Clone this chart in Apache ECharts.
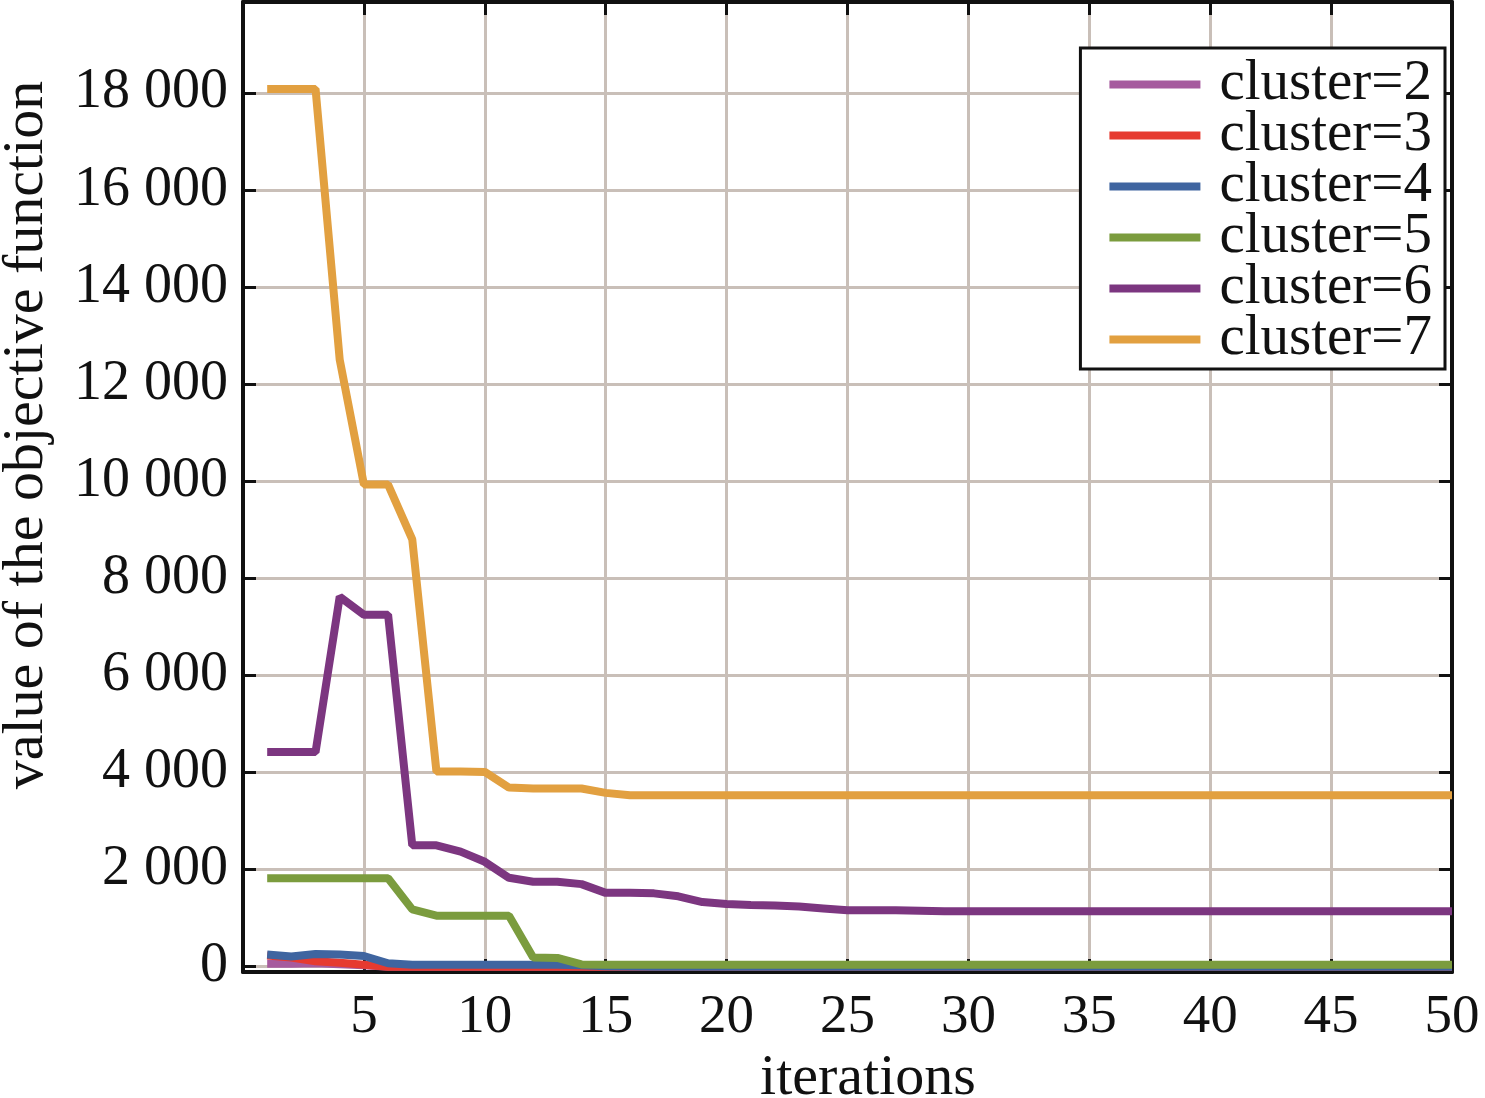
<!DOCTYPE html>
<html>
<head>
<meta charset="utf-8">
<script src="https://cdn.jsdelivr.net/npm/echarts@6/dist/echarts.min.js"></script>
<style>
html,body{margin:0;padding:0;background:#fff;}
#chart{width:1485px;height:1098px;}
</style>
</head>
<body>
<div id="chart"></div>
<script>
var iterations = [1,2,3,4,5,6,7,8,9,10,11,12,13,14,15,16,17,18,19,20,21,22,23,24,25,26,27,28,29,30,31,32,33,34,35,36,37,38,39,40,41,42,43,44,45,46,47,48,49,50];
var seriesNames = ['cluster=2','cluster=3','cluster=4','cluster=5','cluster=6','cluster=7'];
var seriesColors = ['#a65a9e','#e63a30','#3f65a0','#7b9c3e','#7c3680','#e2a040'];
var xTicks = [5,10,15,20,25,30,35,40,45,50];
var yTicks = [0,2000,4000,6000,8000,10000,12000,14000,16000,18000];

var cluster2 = [60,60,70,50,30,0,0,0,0,0,0,0,0,0,0,0,0,0,0,0,0,0,0,0,0,0,0,0,0,0,0,0,0,0,0,0,0,0,0,0,0,0,0,0,0,0,0,0,0,0];
var cluster3 = [230,190,110,80,40,0,0,0,0,0,0,0,0,0,0,0,0,0,0,0,0,0,0,0,0,0,0,0,0,0,0,0,0,0,0,0,0,0,0,0,0,0,0,0,0,0,0,0,0,0];
var cluster4 = [250,210,260,250,220,70,40,40,40,40,40,40,40,30,10,5,0,0,0,0,0,0,0,0,0,0,0,0,0,0,0,0,0,0,0,0,0,0,0,0,0,0,0,0,0,0,0,0,0,0];
var cluster5 = [1820,1820,1820,1820,1820,1820,1180,1050,1050,1050,1050,190,180,45,40,40,40,40,40,40,40,40,40,40,40,40,40,40,40,40,40,40,40,40,40,40,40,40,40,40,40,40,40,40,40,40,40,40,40,40];
var cluster6 = [4420,4420,4420,7620,7250,7250,2500,2500,2370,2160,1830,1750,1750,1700,1520,1520,1510,1450,1330,1290,1270,1260,1240,1200,1160,1160,1160,1150,1140,1140,1140,1140,1140,1140,1140,1140,1140,1140,1140,1140,1140,1140,1140,1140,1140,1140,1140,1140,1140,1140];
var cluster7 = [18080,18080,18080,12500,9930,9930,8800,4020,4020,4010,3690,3670,3670,3670,3580,3530,3530,3530,3530,3530,3530,3530,3530,3530,3530,3530,3530,3530,3530,3530,3530,3530,3530,3530,3530,3530,3530,3530,3530,3530,3530,3530,3530,3530,3530,3530,3530,3530,3530,3530];
var allValues = [cluster2, cluster3, cluster4, cluster5, cluster6, cluster7];

var FONT = '"Liberation Serif", "Times New Roman", serif';
var chart = echarts.init(document.getElementById('chart'), null, {renderer:'canvas'});

function fmt(v){
  var s = String(Math.round(v));
  if (s.length > 3) s = s.slice(0, s.length-3) + ' ' + s.slice(s.length-3);
  return s;
}

var series = seriesNames.map(function(name, k){
  return {
    name: name,
    type: 'line',
    data: iterations.map(function(x, i){ return [x, allValues[k][i]]; }),
    showSymbol: false,
    symbol: 'none',
    color: seriesColors[k],
    lineStyle: {width: 8, color: seriesColors[k]},
    xAxisIndex: 0,
    yAxisIndex: 0,
    z: 3 + k
  };
});

var axisLineStyle = {show:true, onZero:false, lineStyle:{color:'#111', width:4}};
var tickStyle = {show:true, inside:true, length:13, lineStyle:{color:'#111', width:3}};

var yBase = {
  type:'value', min:-110, max:19870, splitNumber:10, minInterval:2000, maxInterval:2000
};

chart.setOption({
  animation:false,
  backgroundColor:'#fff',
  grid:{left:243, right:33, top:2, bottom:126, containLabel:false},
  legend:{
    data: seriesNames,
    orient:'vertical',
    right:40, top:48,
    backgroundColor:'#fff',
    borderColor:'#111', borderWidth:3,
    padding:[8,13,1,29],
    itemWidth:91, itemHeight:8, itemGap:-6,
    icon:'rect',
    textStyle:{fontFamily:FONT, fontSize:57, color:'#111', padding:[0,0,0,14]}
  },
  xAxis:[{
    type:'value', min:0, max:50, interval:5, position:'bottom',
    axisLine:axisLineStyle, axisTick:tickStyle,
    axisLabel:{show:true, margin:18, fontFamily:FONT, fontSize:55, color:'#111',
      formatter:function(v){ return xTicks.indexOf(v) >= 0 ? String(v) : ''; }},
    splitLine:{show:true, lineStyle:{color:'#c9bfb8', width:3}}
  },{
    type:'value', min:0, max:50, interval:5, position:'top',
    axisLine:axisLineStyle, axisTick:tickStyle,
    axisLabel:{show:false}, splitLine:{show:false}
  }],
  yAxis:[Object.assign({}, yBase, {
    position:'left',
    axisLine:axisLineStyle, axisTick:tickStyle,
    axisLabel:{show:true, margin:15, fontFamily:FONT, fontSize:56, color:'#111',
      showMinLabel:false, showMaxLabel:false,
      formatter:function(v){ return yTicks.indexOf(v) >= 0 ? fmt(v) : ''; }},
    splitLine:{show:true, lineStyle:{color:'#c9bfb8', width:3}}
  }), Object.assign({}, yBase, {
    position:'right',
    axisLine:axisLineStyle, axisTick:tickStyle,
    axisLabel:{show:false}, splitLine:{show:false}
  })],
  graphic:[{
    type:'text', x:868, y:1050,
    style:{text:'iterations', font:'58px "Liberation Serif"', fill:'#111', align:'center', verticalAlign:'top'}
  },{
    type:'text', x:-2, y:435, rotation:Math.PI/2,
    style:{text:'value of the objective function', font:'58px "Liberation Serif"', fill:'#111', align:'center', verticalAlign:'top'}
  }],
  series: series
});
</script>
</body>
</html>
